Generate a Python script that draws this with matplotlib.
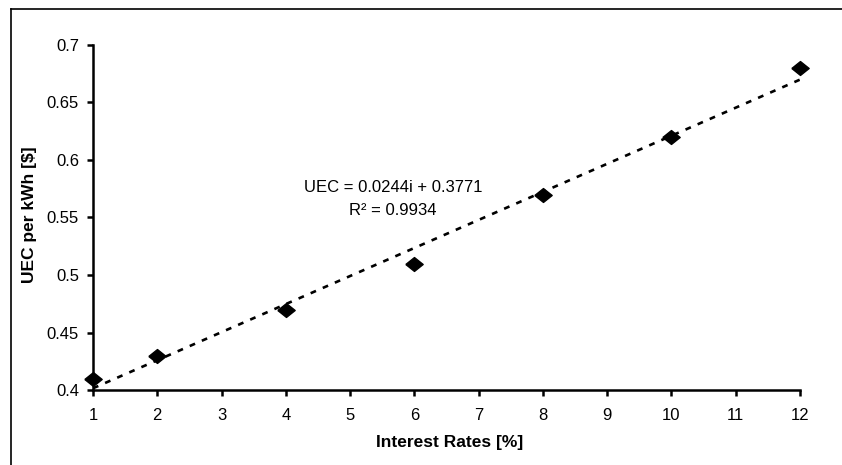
import matplotlib
matplotlib.use("Agg")
import matplotlib.pyplot as plt
from matplotlib.lines import Line2D
from matplotlib.ticker import FuncFormatter
import numpy as np

plt.rcParams['font.family'] = ['Liberation Sans', 'DejaVu Sans']

interest_rates = [1, 2, 4, 6, 8, 10, 12]
uec_values = [0.41, 0.43, 0.47, 0.51, 0.57, 0.62, 0.68]
slope = 0.0244
intercept = 0.3771
r_squared = 0.9934
x_ticks = list(range(1, 13))
y_ticks = [0.4, 0.45, 0.5, 0.55, 0.6, 0.65, 0.7]

fig = plt.figure(figsize=(8.42, 4.65), dpi=100)
ax = fig.add_axes([93/842, 1-390/465, (800-93)/842, (390-45)/465])

wide_diamond = [(-1, 0), (0, 0.8), (1, 0), (0, -0.8), (-1, 0)]
ax.plot(interest_rates, uec_values, linestyle='none', marker=wide_diamond,
        markersize=12.5, color='black', zorder=3, clip_on=False)

xt = np.array([interest_rates[0], interest_rates[-1]])
ax.plot(xt, slope*xt + intercept, color='black', linewidth=1.9,
        linestyle=(0, (2.2, 2.8)), zorder=2)

ax.set_xlim(1, 12)
ax.set_ylim(0.4, 0.7)
ax.set_xticks(x_ticks)
ax.set_yticks(y_ticks)
ax.yaxis.set_major_formatter(FuncFormatter(lambda v, p: f"{v:g}"))

for s in ['top', 'right']:
    ax.spines[s].set_visible(False)
for s in ['left', 'bottom']:
    ax.spines[s].set_linewidth(1.8)

ax.tick_params(axis='both', direction='out', length=4, width=1.8,
               labelsize=12, colors='black')
ax.tick_params(axis='x', pad=9)
ax.tick_params(axis='y', pad=6)

ax.set_xlabel('Interest Rates [%]', fontsize=12.5, fontweight='bold')
ax.set_ylabel('UEC per kWh [$]', fontsize=12.5, fontweight='bold')
ax.xaxis.set_label_coords((450-93)/(800-93), -(442-390)/345)
ax.yaxis.set_label_coords(-(93-30)/(800-93), (390-215)/345)
ax.xaxis.label.set_va('center')
ax.yaxis.label.set_va('center')

ax.text(5.67, 0.5765, f'UEC = {slope}i + {intercept}', ha='center', va='center', fontsize=12)
ax.text(5.67, 0.5565, f'R\u00b2 = {r_squared}', ha='center', va='center', fontsize=12)

# outer chart border (cropped)
fig.add_artist(Line2D([10.5/842, 1], [1-9/465, 1-9/465], transform=fig.transFigure,
                      color='black', linewidth=1.2))
fig.add_artist(Line2D([10.5/842, 10.5/842], [1-9/465, 0], transform=fig.transFigure,
                      color='black', linewidth=1.2))

fig.savefig('out.png', dpi=100)
